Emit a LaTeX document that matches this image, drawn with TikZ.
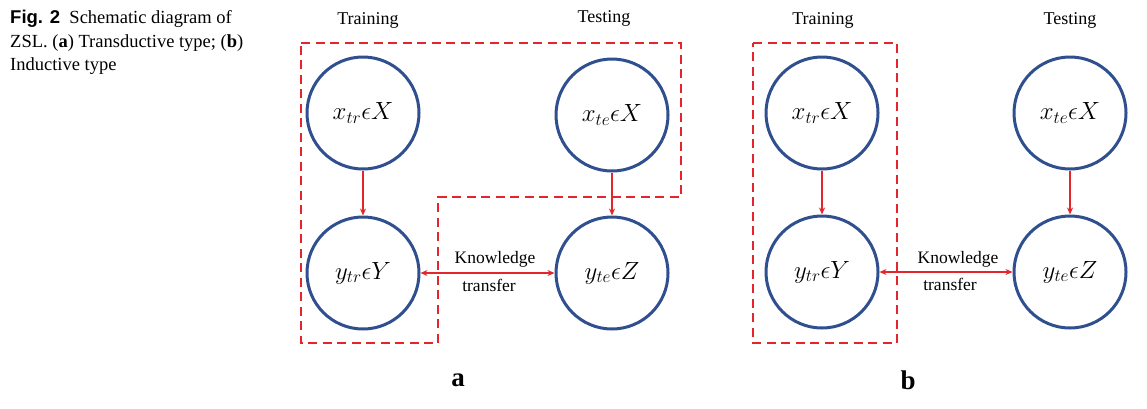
\documentclass[tikz,border=0pt]{standalone}
\usepackage{fontspec}
\setmainfont{Liberation Serif}
\newfontfamily\capsans{Liberation Sans}
\usetikzlibrary{arrows.meta}
\definecolor{cblue}{HTML}{2F4F8F}
\definecolor{cred}{HTML}{E3262B}
\tikzset{
  var/.style={circle, draw=cblue, line width=3pt, minimum size=112pt, inner sep=0pt, font=\fontsize{25}{28}\selectfont},
  flow/.style={draw=cred, line width=1.8pt, -{Stealth[length=7pt,width=6pt]}},
  both/.style={draw=cred, line width=1.8pt, {Stealth[length=7pt,width=6pt]}-{Stealth[length=7pt,width=6pt]}},
  plate/.style={draw=cred, line width=2.2pt, dash pattern=on 9pt off 5.5pt},
  head/.style={font=\fontsize{18}{20}\selectfont},
  kt/.style={font=\fontsize{17.5}{20}\selectfont},
  panel/.style={font=\fontsize{27}{30}\selectfont\bfseries}
}
\begin{document}
\begin{tikzpicture}[x=1pt,y=-1pt]
\useasboundingbox (0,0) rectangle (1147,408);
% caption
\node[anchor=north west, align=left, inner sep=0pt, font=\fontsize{18.5}{23.5}\selectfont] (cap) at (10,10)
  {{\capsans\bfseries Fig. 2}\ \ Schematic diagram of\\ZSL. (\textbf{a}) Transductive type; (\textbf{b})\\Inductive type};
% panel a
\node[head] (tra) at (368,20) {Training};
\node[head] (tea) at (604,18) {Testing};
\node[var] (xtra) at (363,113) {$x_{tr}\epsilon X$};
\node[var] (ytra) at (363,273) {$y_{tr}\epsilon Y$};
\node[var] (xtea) at (612,115) {$x_{te}\epsilon X$};
\node[var] (ytea) at (612,273) {$y_{te}\epsilon Z$};
\coordinate (pa1) at (301,43);
\coordinate (pa2) at (681,43);
\coordinate (pa3) at (681,197);
\coordinate (pa4) at (438,197);
\coordinate (pa5) at (438,343);
\coordinate (pa6) at (301,343);
\draw[plate] (pa1) -- (pa2) -- (pa3) -- (pa4) -- (pa5) -- (pa6) -- cycle;
\draw[flow] (xtra) -- (ytra);
\draw[flow] (xtea) -- (ytea);
\draw[both] (ytra) -- (ytea);
\node[kt] (kna) at (495,259) {Knowledge};
\node[kt] (tfa) at (489,285) {transfer};
\node[panel] (la) at (458,380) {a};
% panel b
\node[head] (trb) at (823,20) {Training};
\node[head] (teb) at (1070,20) {Testing};
\node[var] (xtrb) at (822,113) {$x_{tr}\epsilon X$};
\node[var] (ytrb) at (822,272) {$y_{tr}\epsilon Y$};
\node[var] (xteb) at (1070,113) {$x_{te}\epsilon X$};
\node[var] (yteb) at (1070,272) {$y_{te}\epsilon Z$};
\coordinate (pb1) at (753,43);
\coordinate (pb2) at (897,43);
\coordinate (pb3) at (897,343);
\coordinate (pb4) at (753,343);
\draw[plate] (pb1) -- (pb2) -- (pb3) -- (pb4) -- cycle;
\draw[flow] (xtrb) -- (ytrb);
\draw[flow] (xteb) -- (yteb);
\draw[both] (ytrb) -- (yteb);
\node[kt] (knb) at (958,259) {Knowledge};
\node[kt] (tfb) at (950,284) {transfer};
\node[panel] (lb) at (908,380) {b};
\end{tikzpicture}
\end{document}
